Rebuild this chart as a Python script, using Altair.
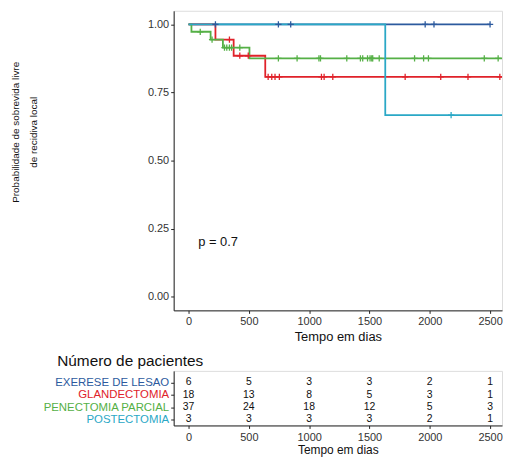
import altair as alt
import pandas as pd

FONT = "Liberation Sans"

groups = ["EXERESE DE LESAO", "GLANDECTOMIA", "PENECTOMIA PARCIAL", "POSTECTOMIA"]
colors = ["#2C5A9E", "#E0222A", "#55B046", "#2AA8C6"]
row_pos = [4, 3, 2, 1]

# Kaplan-Meier step curves (time in days, survival)
exe_t = [0, 2500]
exe_s = [1.0, 1.0]
gla_t = [0, 223, 374, 636, 2650]
gla_s = [1.0, 0.944, 0.885, 0.807, 0.807]
pen_t = [0, 24, 183, 285, 505, 2650]
pen_s = [1.0, 0.973, 0.944, 0.915, 0.875, 0.875]
pos_t = [0, 1631, 2650]
pos_s = [1.0, 0.667, 0.667]

# censoring marks
exe_ct = [223, 745, 847, 1962, 2035, 2500]
exe_cs = [1.0, 1.0, 1.0, 1.0, 1.0, 1.0]
gla_ct = [339, 425, 495, 660, 690, 717, 753, 1102, 1124, 1196, 1796, 2091, 2317, 2581]
gla_cs = [0.944, 0.885, 0.885, 0.807, 0.807, 0.807, 0.807, 0.807, 0.807, 0.807, 0.807, 0.807, 0.807, 0.807]
pen_ct = [97, 195, 298, 317, 339, 357, 425, 745, 900, 1081, 1094, 1312, 1425, 1444, 1484,
          1505, 1519, 1527, 1581, 1874, 1949, 1989, 2452, 2567]
pen_cs = [0.973, 0.944, 0.915, 0.915, 0.915, 0.915, 0.915, 0.875, 0.875, 0.875, 0.875, 0.875,
          0.875, 0.875, 0.875, 0.875, 0.875, 0.875, 0.875, 0.875, 0.875, 0.875, 0.875, 0.875]
pos_ct = [2177]
pos_cs = [0.667]

# number at risk table
risk_times = [0, 500, 1000, 1500, 2000, 2500]
exe_n = [6, 5, 3, 3, 2, 1]
gla_n = [18, 13, 8, 5, 3, 1]
pen_n = [37, 24, 18, 12, 5, 3]
pos_n = [3, 3, 3, 3, 2, 1]

pval_text = "p = 0.7"
pval_t = 80
pval_s = 0.2

x_ticks = [0, 500, 1000, 1500, 2000, 2500]
y_ticks = [0, 0.25, 0.5, 0.75, 1.0]

steps = []
for g, ts, ss in zip(groups, [exe_t, gla_t, pen_t, pos_t], [exe_s, gla_s, pen_s, pos_s]):
    for t, s in zip(ts, ss):
        steps.append({"grupo": g, "t": t, "s": s})
steps = pd.DataFrame(steps)

cens = []
for g, ts, ss in zip(groups, [exe_ct, gla_ct, pen_ct, pos_ct], [exe_cs, gla_cs, pen_cs, pos_cs]):
    for t, s in zip(ts, ss):
        cens.append({"grupo": g, "t": t, "s": s})
cens = pd.DataFrame(cens)

risk = []
for g, r, ns in zip(groups, row_pos, [exe_n, gla_n, pen_n, pos_n]):
    for t, n in zip(risk_times, ns):
        risk.append({"grupo": g, "row": r, "t": t, "n": n})
risk = pd.DataFrame(risk)

xdom = [-123.4, 2599]
W = 331
color_scale = alt.Scale(domain=groups, range=colors)

x_main = alt.X("t:Q", scale=alt.Scale(domain=xdom, nice=False, zero=False),
               axis=alt.Axis(values=x_ticks, format="d", title="Tempo em dias", grid=False,
                             labelFontSize=11, titleFontSize=13, titleFontWeight="normal",
                             tickSize=3, labelPadding=2, titlePadding=4,
                             labelColor="#333333", titleColor="#111111",
                             domainColor="#222222", tickColor="#222222",
                             labelFont=FONT, titleFont=FONT))
y_main = alt.Y("s:Q", scale=alt.Scale(domain=[-0.05, 1.05], nice=False, zero=False),
               axis=alt.Axis(values=y_ticks, format=".2f",
                             title=["Probabilidade de sobrevida livre", "de recidiva local"],
                             grid=False, labelFontSize=11, titleFontSize=10,
                             titleFontWeight="normal", tickSize=3, labelPadding=2,
                             titleAngle=270, titleX=-159, titleY=122, titleAlign="center",
                             titleBaseline="middle", titleLineHeight=18,
                             labelColor="#333333", titleColor="#111111",
                             domainColor="#222222", tickColor="#222222",
                             labelFont=FONT, titleFont=FONT))

lines = alt.Chart(steps).mark_line(interpolate="step-after", strokeWidth=1.8, clip=True).encode(
    x=x_main, y=y_main,
    color=alt.Color("grupo:N", scale=color_scale, legend=None),
)
marks = alt.Chart(cens).mark_point(shape="M0,-1L0,1M-1,0L1,0", size=40, filled=False,
                                   strokeWidth=1.3, opacity=1, clip=True).encode(
    x="t:Q", y="s:Q",
    color=alt.Color("grupo:N", scale=color_scale, legend=None),
)
ptext = alt.Chart(pd.DataFrame({"t": [pval_t], "s": [pval_s], "lab": [pval_text]})).mark_text(
    align="left", baseline="middle", fontSize=13, font=FONT, color="#111111"
).encode(x="t:Q", y="s:Q", text="lab:N")

main = alt.layer(lines, marks, ptext).properties(width=W, height=302)

label_expr = " : ".join(
    [f"datum.value == {r} ? '{g}'" for g, r in zip(groups, row_pos)]) + " : ''"
label_color = {
    "condition": [{"test": f"datum.value == {r}", "value": c}
                  for r, c in zip(row_pos, colors)],
    "value": "#333333",
}

table = alt.Chart(risk).mark_text(fontSize=10.5, font=FONT, color="#111111",
                                  baseline="middle").encode(
    x=alt.X("t:Q", scale=alt.Scale(domain=xdom, nice=False, zero=False),
            axis=alt.Axis(values=x_ticks, format="d", title="Tempo em dias", grid=False,
                          labelFontSize=11, titleFontSize=12, titleFontWeight="normal",
                          tickSize=3, labelPadding=3, titlePadding=2,
                          labelColor="#333333", titleColor="#111111",
                          domainColor="#222222", tickColor="#222222",
                          labelFont=FONT, titleFont=FONT)),
    y=alt.Y("row:Q", scale=alt.Scale(domain=[0.52, 4.93], nice=False, zero=False),
            axis=alt.Axis(values=row_pos, labelExpr=label_expr, labelColor=label_color,
                          title=None, grid=False, labelFontSize=11.5, tickSize=3,
                          labelPadding=2, domainColor="#222222", tickColor="#222222",
                          labelFont=FONT)),
    text="n:Q",
).properties(
    width=W, height=55,
    title=alt.TitleParams("Número de pacientes", anchor="start", fontSize=15.5,
                          fontWeight="normal", font=FONT, color="#111111",
                          dx=15, offset=1),
)

chart = alt.vconcat(main, table, spacing=10).properties(
    padding={"left": 2, "top": 0, "right": 0, "bottom": 0}
).configure_view(strokeWidth=0).configure(background="white")

chart.save("out.html", embed_options={"renderer": "svg", "actions": False})
